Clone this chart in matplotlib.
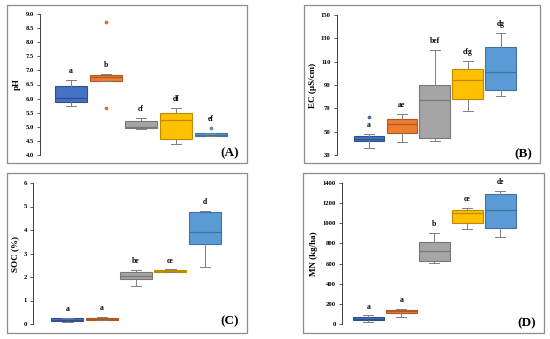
import numpy as np
import matplotlib.pyplot as plt
from matplotlib.patches import Rectangle

plt.rcParams['font.family'] = ['Liberation Serif', 'DejaVu Serif']
plt.rcParams['font.weight'] = 'bold'

W, H = 550, 339

colors = ['#4472C4', '#ED7D31', '#A5A5A5', '#FFC000', '#5B9BD5']
edges = ['#2F528F', '#AE5A21', '#787878', '#BC8C00', '#41719C']

# pH
ph_low = [5.75, 6.62, 4.92, 4.38, 4.68]
ph_q1 = [5.87, 6.62, 4.97, 4.58, 4.68]
ph_med = [6.02, 6.78, 5.00, 5.25, 4.70]
ph_q3 = [6.45, 6.85, 5.20, 5.50, 4.77]
ph_high = [6.65, 6.87, 5.32, 5.67, 4.78]
ph_fliers = [[], [8.7, 5.67], [], [], [4.97]]
ph_letters = ['a', 'b', 'cf', 'df', 'ef']

# EC (uS/cm)
ec_low = [36, 41, 42, 68, 81]
ec_q1 = [42, 49, 45, 78, 86]
ec_med = [44, 57, 77, 94, 101]
ec_q3 = [46, 61, 90, 104, 123]
ec_high = [48, 65, 120, 111, 135]
ec_fliers = [[63], [], [], [], []]
ec_letters = ['a', 'ae', 'bef', 'cfg', 'dg']

# SOC (%)
soc_low = [0.10, 0.15, 1.60, 2.20, 2.42]
soc_q1 = [0.12, 0.18, 1.92, 2.22, 3.40]
soc_med = [0.17, 0.22, 2.05, 2.25, 3.92]
soc_q3 = [0.25, 0.26, 2.22, 2.28, 4.78]
soc_high = [0.25, 0.30, 2.30, 2.32, 4.82]
soc_fliers = [[], [], [], [], []]
soc_letters = ['a', 'a', 'be', 'ce', 'd']

# MN (kg/ha)
mn_low = [20, 70, 610, 945, 865]
mn_q1 = [35, 105, 625, 1000, 950]
mn_med = [50, 125, 725, 1100, 1130]
mn_q3 = [65, 140, 810, 1130, 1290]
mn_high = [85, 145, 900, 1150, 1320]
mn_fliers = [[], [], [], [], []]
mn_letters = ['a', 'a', 'b', 'ce', 'de']

fig = plt.figure(figsize=(W / 100, H / 100), dpi=100)


def px_axes(x0, x1, y0, y1):
    return fig.add_axes([x0 / W, 1 - y1 / H, (x1 - x0) / W, (y1 - y0) / H])


def panel(ax, low, q1, med, q3, high, fliers, letters, ylim, yticks, fmt, ylabel, xlim):
    stats = []
    for i in range(5):
        stats.append(dict(whislo=low[i], q1=q1[i], med=med[i], q3=q3[i],
                          whishi=high[i], fliers=fliers[i]))
    for i in range(5):
        ax.bxp([stats[i]], positions=[i + 1], widths=0.93, patch_artist=True,
               showfliers=True,
               boxprops=dict(facecolor=colors[i], edgecolor=edges[i], lw=0.8),
               medianprops=dict(color=edges[i], lw=0.9),
               whiskerprops=dict(color='#7F7F7F', lw=0.7),
               capprops=dict(color='#7F7F7F', lw=0.7),
               capwidths=0.3,
               flierprops=dict(marker='o', markersize=2.2, markerfacecolor=colors[i],
                               markeredgecolor=edges[i], markeredgewidth=0.4))
    rng = ylim[1] - ylim[0]
    for i in range(5):
        top = high[i]
        for f in fliers[i]:
            if high[i] < f < high[i] + 0.1 * rng:
                top = f
        ax.text(i + 1, top + 0.035 * rng, letters[i], ha='center', va='bottom',
                fontsize=5.5, fontweight='bold')
    ax.set_ylim(*ylim)
    ax.set_xlim(*xlim)
    ax.set_yticks(yticks)
    ax.set_yticklabels([fmt.format(v) for v in yticks], fontsize=4.8, fontweight='bold')
    ax.set_xticks([])
    for s in ['top', 'right', 'bottom']:
        ax.spines[s].set_visible(False)
    ax.spines['left'].set_color('#404040')
    ax.spines['left'].set_linewidth(0.7)
    ax.tick_params(axis='y', length=2.5, width=0.6, color='#404040', pad=2)
    ax.set_ylabel(ylabel, fontsize=6.5, fontweight='bold', labelpad=3)
    ax.patch.set_alpha(0)


axA = px_axes(40, 246, 14, 155)
panel(axA, ph_low, ph_q1, ph_med, ph_q3, ph_high, ph_fliers, ph_letters,
      (4, 9), np.arange(4, 9.01, 0.5), '{:.1f}', 'pH', (0.12, 6.0))

axB = px_axes(337, 540, 15, 155)
panel(axB, ec_low, ec_q1, ec_med, ec_q3, ec_high, ec_fliers, ec_letters,
      (30, 150), np.arange(30, 151, 20), '{:.0f}', 'EC (µS/cm)', (0.03, 6.2))

axC = px_axes(33, 246, 183, 324)
panel(axC, soc_low, soc_q1, soc_med, soc_q3, soc_high, soc_fliers, soc_letters,
      (0, 6), np.arange(0, 6.01, 1), '{:.0f}', 'SOC (%)', (0.0, 6.2))

axD = px_axes(342, 540, 183, 324)
panel(axD, mn_low, mn_q1, mn_med, mn_q3, mn_high, mn_fliers, mn_letters,
      (0, 1400), np.arange(0, 1401, 200), '{:.0f}', 'MN (kg/ha)', (0.2, 6.2))

# panel frames
for (x0, y0, x1, y1) in [(7, 5, 247, 163), (304, 5, 540, 163),
                         (7, 173, 247, 333), (303, 173, 544, 333)]:
    fig.patches.append(Rectangle((x0 / W, 1 - y1 / H), (x1 - x0) / W, (y1 - y0) / H,
                                 transform=fig.transFigure, fill=False,
                                 edgecolor='#8C8C8C', lw=0.9))

for lab, x, y in [('(A)', 230, 153), ('(B)', 523, 154), ('(C)', 230, 321), ('(D)', 527, 323)]:
    fig.text(x / W, 1 - y / H, lab, ha='center', va='center', fontsize=9.5, fontweight='bold')

fig.savefig('out.png', dpi=100)
